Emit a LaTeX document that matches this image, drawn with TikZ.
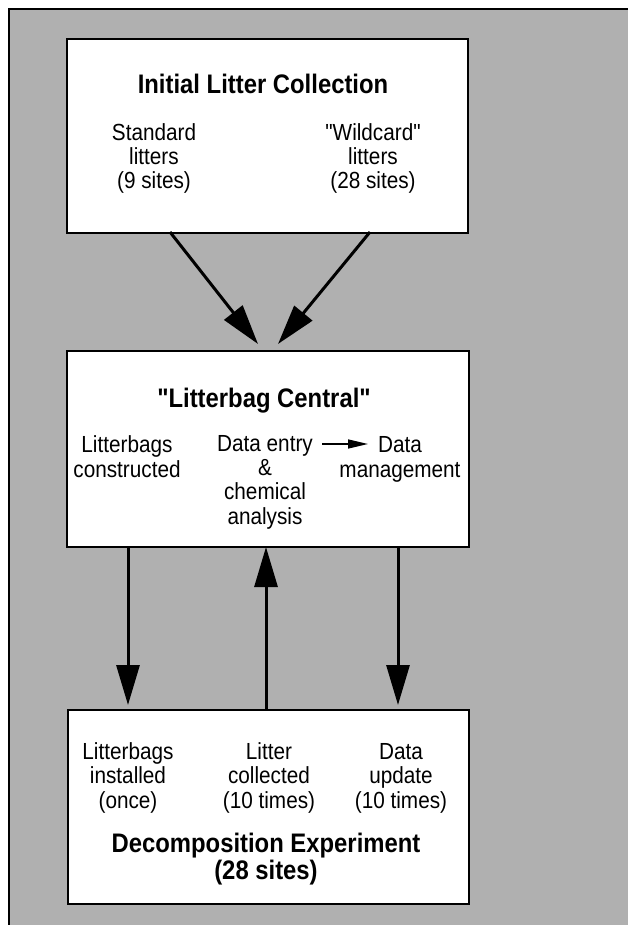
\documentclass[tikz,border=0pt]{standalone}
\usepackage{fontspec}
\setmainfont[FakeStretch=0.89,Ligatures=TeXOff]{Liberation Sans}
\usetikzlibrary{arrows.meta}
\definecolor{bggray}{gray}{0.69}
\begin{document}
\begin{tikzpicture}[x=1pt,y=-1pt,
  box/.style={draw, line width=2pt, fill=white, inner sep=0pt, anchor=north west},
  txt/.style={font=\fontsize{23.3}{24.2}\selectfont, align=center, anchor=base, inner sep=0pt},
  ttl/.style={font=\fontsize{26.8}{26.8}\selectfont\bfseries, align=center, anchor=base, inner sep=0pt},
  bigarrow/.style={line width=3pt, -{Triangle[length=40pt,width=23pt]}},
  smallarrow/.style={line width=1.5pt, -{Triangle[length=20pt,width=9pt]}}
]
\useasboundingbox (0,0) rectangle (628,925);
\fill[bggray] (9,9) rectangle (660,960);
\draw[line width=2.5pt] (9,960) -- (9,9) -- (660,9);

% boxes
\node[box, minimum width=401pt, minimum height=194pt] (b1) at (66,38) {};
\node[box, minimum width=402pt, minimum height=196pt] (b2) at (66,350) {};
\node[box, minimum width=401pt, minimum height=194pt] (b3) at (67,709) {};

% box 1 texts (anchor base = last line)
\node[ttl] (t1) at (263,94) {Initial Litter Collection};
\node[txt] (std) at (154,189) {Standard\\litters\\(9 sites)};
\node[txt] (wild) at (373,189) {"Wildcard"\\litters\\(28 sites)};

% box 2 texts
\node[ttl] (t2) at (264,407) {"Litterbag Central"};
\node[txt] (constr) at (127,477) {Litterbags\\constructed};
\node[txt] (entry) at (265,524) {Data entry\\\&\\chemical\\analysis};
\node[txt] (manage) at (400,477) {Data\\management};
\coordinate (sa1) at (322,444);
\coordinate (sa2) at (368,444);
\draw[smallarrow] (sa1) -- (sa2);

% box 3 texts
\node[txt] (inst) at (128,808) {Litterbags\\installed\\(once)};
\node[txt] (coll) at (269,808) {Litter\\collected\\(10 times)};
\node[txt] (upd) at (401,808) {Data\\update\\(10 times)};
\node[ttl, font=\fontsize{26.8}{26.5}\selectfont\bfseries] (t3) at (266,879) {Decomposition Experiment\\(28 sites)};

% arrows box1 -> box2
\coordinate (d1s) at (170,232);
\coordinate (d1e) at (258,344);
\coordinate (d2s) at (370,232);
\coordinate (d2e) at (278,344);
\draw[bigarrow] (d1s) -- (d1e);
\draw[bigarrow] (d2s) -- (d2e);

% vertical arrows
\coordinate (v1s) at (128,546);
\coordinate (v1e) at (128,705);
\coordinate (v2s) at (266,709);
\coordinate (v2e) at (266,547);
\coordinate (v3s) at (398,546);
\coordinate (v3e) at (398,705);
\draw[bigarrow] (v1s) -- (v1e);
\draw[bigarrow] (v2s) -- (v2e);
\draw[bigarrow] (v3s) -- (v3e);
\end{tikzpicture}
\end{document}
